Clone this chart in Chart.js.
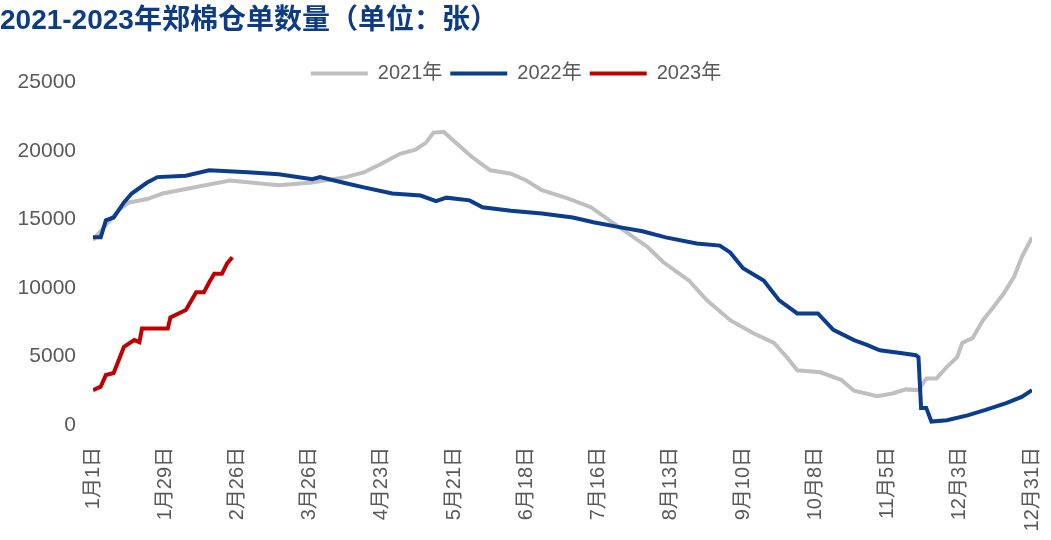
<!DOCTYPE html>
<html>
<head>
<meta charset="utf-8">
<script src="https://cdn.jsdelivr.net/npm/chart.js@4/dist/chart.umd.min.js"></script>
<style>
  html, body { margin: 0; padding: 0; background: #fff; }
  #wrap { width: 1051px; height: 540px; position: relative; }
</style>
</head>
<body>
<div id="wrap"><canvas id="myChart"></canvas></div>
<script>
// day of year (0 = 1月1日) and warehouse receipts (张)
const days2021 = [0,5,10,14,21,27,38,53,72,85,98,105,111,119,125,129,132,136,141,147,154,162,168,174,184,193,202,215,221,231,238,247,256,264,269,273,282,290,295,304,310,315,320,323,327,331,335,337,341,345,349,353,357,360,364];
const vals2021 = [13500,14600,15700,16250,16500,16900,17300,17850,17500,17700,18100,18450,19000,19800,20100,20600,21350,21400,20550,19550,18600,18350,17850,17150,16550,15900,14700,13000,11900,10550,9100,7650,6700,6000,4950,4000,3850,3300,2500,2100,2300,2600,2550,3400,3400,4250,4950,6000,6350,7650,8600,9600,10800,12250,13700];

const days2022 = [0,3,5,8,12,15,21,25,36,45,60,72,85,88,98,105,116,127,133,137,146,151,162,174,186,194,204,213,222,234,243,247,252,260,266,273,281,287,295,300,305,313,319,320,321,323,325,331,339,346,354,360,364];
const vals2022 = [13700,13700,14950,15150,16250,16900,17700,18100,18200,18600,18450,18300,17950,18100,17650,17350,16900,16750,16350,16600,16400,15900,15650,15450,15150,14800,14450,14150,13700,13250,13100,12600,11450,10550,9100,8150,8150,6950,6200,5850,5450,5250,5100,4950,1250,1250,250,350,700,1100,1600,2050,2550];

const days2023 = [0,3,5,8,12,16,18,19,29,30,36,40,43,45,47,50,52,54];
const vals2023 = [2550,2800,3650,3800,5700,6200,6050,7050,7050,7850,8400,9700,9700,10400,11050,11050,11800,12250];

const seriesNames = ["2021年", "2022年", "2023年"];
const yTicks = [0, 5000, 10000, 15000, 20000, 25000];

const pts = (d, v) => d.map((x, i) => ({ x: x, y: v[i] }));
const dayLabel = d => {
    const dt = new Date(2021, 0, 1 + d);
    return (dt.getMonth() + 1) + "月" + dt.getDate() + "日";
};

const font = "'Liberation Sans', 'Noto Sans CJK SC', sans-serif";

const ctx = document.getElementById('myChart');
const myChart = new Chart(ctx, {
    type: 'line',
    data: {
        datasets: [
            { label: seriesNames[0], data: pts(days2021, vals2021), borderColor: '#BFBFBF', backgroundColor: '#BFBFBF', borderWidth: 4, radius: 0, order: 3 },
            { label: seriesNames[1], data: pts(days2022, vals2022), borderColor: '#0B3D8C', backgroundColor: '#0B3D8C', borderWidth: 4, radius: 0, order: 2 },
            { label: seriesNames[2], data: pts(days2023, vals2023), borderColor: '#C00000', backgroundColor: '#C00000', borderWidth: 4, radius: 0, order: 1 }
        ]
    },
    options: {
        responsive: true,
        maintainAspectRatio: false,
        animation: false,
        layout: { padding: { left: 0, right: 19, top: 4, bottom: 0 } },
        plugins: {
            title: {
                display: true,
                text: '2021-2023年郑棉仓单数量（单位：张）',
                align: 'start',
                color: '#0D3C84',
                font: { family: font, size: 28, weight: 'bold' },
                padding: { top: 0, bottom: 18 }
            },
            legend: {
                position: 'top',
                maxHeight: 27,
                labels: {
                    boxWidth: 57,
                    boxHeight: 4,
                    padding: 8,
                    color: '#595959',
                    font: { family: font, size: 20 },
                    sort: (a, b) => a.datasetIndex - b.datasetIndex,
                    generateLabels(chart) {
                        const items = Chart.defaults.plugins.legend.labels.generateLabels(chart);
                        items.forEach(it => { it.lineWidth = 0; });
                        return items;
                    }
                }
            },
            tooltip: { enabled: false }
        },
        scales: {
            x: {
                type: 'linear',
                min: 0,
                max: 364,
                grid: { display: false, drawTicks: false },
                border: { display: false },
                afterFit: s => { s.height = 115; s.paddingLeft = 0; s.paddingRight = 0; },
                ticks: {
                    stepSize: 28,
                    autoSkip: false,
                    maxRotation: 90,
                    minRotation: 90,
                    padding: 22,
                    color: '#595959',
                    font: { family: font, size: 20 },
                    callback: v => dayLabel(v)
                }
            },
            y: {
                min: 0,
                max: 25000,
                grid: { display: false, drawTicks: false },
                border: { display: false },
                afterFit: s => { s.width = 93; },
                afterBuildTicks: s => { s.ticks = yTicks.map(v => ({ value: v })); },
                ticks: {
                    padding: 17,
                    color: '#595959',
                    font: { family: font, size: 21 },
                    callback: v => v
                }
            }
        }
    }
});
</script>
</body>
</html>
